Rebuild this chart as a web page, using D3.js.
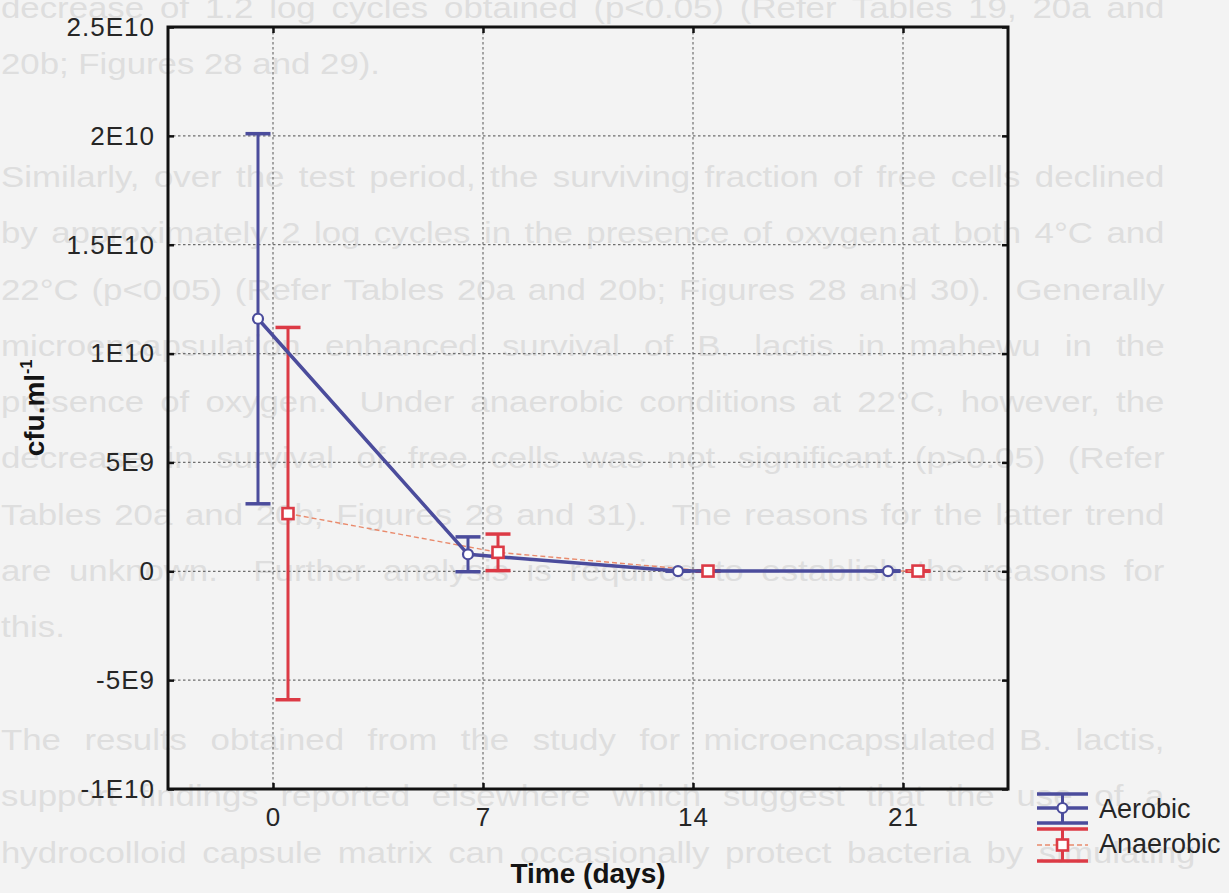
<!DOCTYPE html>
<html>
<head>
<meta charset="utf-8">
<script src="https://cdn.jsdelivr.net/npm/d3@7"></script>
<style>
  html, body { margin: 0; padding: 0; background: #f3f3f3; }
  svg { display: block; font-family: "Liberation Sans", Arial, Helvetica, sans-serif; }
</style>
</head>
<body>
<svg id="chart" width="1229" height="893"></svg>
<script>
// ---- data -------------------------------------------------------------
const days = [0, 7, 14, 21];
const aerobicMean = [1.16e10, 7.8e8, 1e7, 1e7];
const aerobicErr = [8.5e9, 8.0e8, 1e7, 1e7];
const anaerobicMean = [2.65e9, 8.7e8, 1e7, 1e7];
const anaerobicErr = [8.55e9, 8.4e8, 1e7, 1e7];
const seriesNames = ["Aerobic", "Anaerobic"];
const yTickValues = [-1e10, -5e9, 0, 5e9, 1e10, 1.5e10, 2e10, 2.5e10];
const yTickLabels = ["-1E10", "-5E9", "0", "5E9", "1E10", "1.5E10", "2E10", "2.5E10"];
const xTickLabels = ["0", "7", "14", "21"];

// page text printed on the sheet behind the figure
const pageLines = [
  "decrease of 1.2 log cycles obtained (p<0.05) (Refer Tables 19, 20a and",
  "20b; Figures 28 and 29).",
  "",
  "Similarly, over the test period, the surviving fraction of free cells declined",
  "by approximately 2 log cycles in the presence of oxygen at both 4°C and",
  "22°C (p<0.05) (Refer Tables 20a and 20b; Figures 28 and 30).  Generally",
  "microencapsulation enhanced survival of B. lactis in mahewu in the",
  "presence of oxygen.  Under anaerobic conditions at 22°C, however, the",
  "decrease in survival of free cells was not significant (p>0.05) (Refer",
  "Tables 20a and 20b; Figures 28 and 31).  The reasons for the latter trend",
  "are unknown.  Further analysis is required to establish the reasons for",
  "this.",
  "",
  "The results obtained from the study for microencapsulated B. lactis,",
  "support findings reported elsewhere which suggest that the use of a",
  "hydrocolloid capsule matrix can occasionally protect bacteria by simulating"
];

// ---- layout -----------------------------------------------------------
const plot = { left: 168, right: 1008, top: 27, bottom: 789 };
const BLUE = "#4b4c9c", RED = "#dc3a45", RED_LINE = "#e98a6c";
const dayShift = 0.5;   // the two series sit either side of each sampling day

const svg = d3.select("#chart");

// faint page text: wide typeface, justified by stretching then widening gaps
const page = svg.append("g").attr("fill", "#dedede").attr("font-size", 29);
const maxStretch = 1.2;
pageLines.forEach((line, i) => {
  if (!line) return;
  const last = i === pageLines.length - 1;
  const endOfPara = !last && !pageLines[i + 1];
  const t = page.append("text")
    .attr("x", 0).attr("y", 0)
    .style("white-space", "pre")
    .text(line);
  const natural = t.node().getComputedTextLength();
  const target = last ? 1195 : 1164;
  let s = maxStretch;
  if (!endOfPara) {
    s = Math.min(target / natural, maxStretch);
    const gaps = (line.match(/ /g) || []).length;
    if (gaps) t.attr("word-spacing", (target / s - natural) / gaps);
  }
  t.attr("transform", `translate(1,${18 + i * 56.3}) scale(${s},1)`);
});

const x = d3.scaleLinear().domain([-3.5, 24.5]).range([plot.left, plot.right]);
const y = d3.scaleLinear().domain([-1e10, 2.5e10]).range([plot.bottom, plot.top]);

// grid
const grid = svg.append("g")
  .attr("stroke", "#6f6f6f").attr("stroke-width", 1.2).attr("stroke-dasharray", "2.5,2.5");
grid.selectAll("line.gx").data(days).join("line")
  .attr("x1", d => x(d)).attr("x2", d => x(d))
  .attr("y1", plot.top).attr("y2", plot.bottom);
grid.selectAll("line.gy").data(yTickValues.slice(1, -1)).join("line")
  .attr("y1", d => y(d)).attr("y2", d => y(d))
  .attr("x1", plot.left).attr("x2", plot.right);

// axes (ticks point inward)
function styleAxis(g, fontSize) {
  g.select(".domain").remove();
  g.selectAll(".tick line").attr("stroke", "#111").attr("stroke-width", 2.5);
  g.selectAll("text")
    .attr("fill", "#262626")
    .attr("font-size", fontSize)
    .attr("letter-spacing", 1)
    .attr("font-family", "'Liberation Sans', Arial, sans-serif");
}
svg.append("g").attr("transform", `translate(${plot.left},0)`)
  .call(d3.axisLeft(y).tickValues(yTickValues)
    .tickFormat((d, i) => yTickLabels[i]).tickSizeInner(-6).tickSizeOuter(0).tickPadding(13))
  .call(g => styleAxis(g, 26));
svg.append("g").attr("transform", `translate(${plot.right},0)`)
  .call(d3.axisRight(y).tickValues(yTickValues).tickFormat("").tickSizeInner(-6).tickSizeOuter(0))
  .call(g => styleAxis(g, 26));
svg.append("g").attr("transform", `translate(0,${plot.bottom})`)
  .call(d3.axisBottom(x).tickValues(days)
    .tickFormat((d, i) => xTickLabels[i]).tickSizeInner(-6).tickSizeOuter(0).tickPadding(19))
  .call(g => styleAxis(g, 26));
svg.append("g").attr("transform", `translate(0,${plot.top})`)
  .call(d3.axisTop(x).tickValues(days).tickFormat("").tickSizeInner(-6).tickSizeOuter(0))
  .call(g => styleAxis(g, 26));

// frame
svg.append("rect")
  .attr("x", plot.left).attr("y", plot.top)
  .attr("width", plot.right - plot.left).attr("height", plot.bottom - plot.top)
  .attr("fill", "none").attr("stroke", "#111").attr("stroke-width", 3);

// series
const aerobic = days.map((d, i) => ({ day: d - dayShift, m: aerobicMean[i], e: aerobicErr[i] }));
const anaerobic = days.map((d, i) => ({ day: d + dayShift, m: anaerobicMean[i], e: anaerobicErr[i] }));
const capHalf = 12.5;

function errorBars(data, color) {
  const g = svg.append("g").attr("stroke", color).attr("fill", "none");
  g.selectAll("line.v").data(data).join("line")
    .attr("stroke-width", 3)
    .attr("x1", d => x(d.day)).attr("x2", d => x(d.day))
    .attr("y1", d => y(d.m + d.e)).attr("y2", d => y(d.m - d.e));
  [1, -1].forEach(s => {
    g.append("g").selectAll("line").data(data).join("line")
      .attr("stroke-width", 3.5)
      .attr("x1", d => x(d.day) - capHalf).attr("x2", d => x(d.day) + capHalf)
      .attr("y1", d => y(d.m + s * d.e))
      .attr("y2", d => y(d.m + s * d.e));
  });
}
const line = d3.line().x(d => x(d.day)).y(d => y(d.m));

errorBars(anaerobic, RED);
svg.append("path").datum(anaerobic).attr("d", line)
  .attr("fill", "none").attr("stroke", RED_LINE).attr("stroke-width", 1.4)
  .attr("stroke-dasharray", "5,3");
errorBars(aerobic, BLUE);
svg.append("path").datum(aerobic).attr("d", line)
  .attr("fill", "none").attr("stroke", BLUE).attr("stroke-width", 3.5);

svg.append("g").selectAll("circle").data(aerobic).join("circle")
  .attr("cx", d => x(d.day)).attr("cy", d => y(d.m)).attr("r", 5)
  .attr("fill", "#fff").attr("stroke", BLUE).attr("stroke-width", 2.2);
svg.append("g").selectAll("rect").data(anaerobic).join("rect")
  .attr("x", d => x(d.day) - 5.5).attr("y", d => y(d.m) - 5.5)
  .attr("width", 11).attr("height", 11)
  .attr("fill", "#fff").attr("stroke", RED).attr("stroke-width", 2.6);

// axis titles
svg.append("text")
  .attr("x", (plot.left + plot.right) / 2).attr("y", 883)
  .attr("text-anchor", "middle").attr("font-size", 28).attr("font-weight", "bold")
  .attr("fill", "#141414").text("Time (days)");
const yt = svg.append("text")
  .attr("transform", "translate(44,408) rotate(-90)")
  .attr("text-anchor", "middle").attr("font-size", 28).attr("font-weight", "bold")
  .attr("fill", "#141414");
yt.append("tspan").text("cfu.ml");
yt.append("tspan").attr("dy", -12).attr("font-size", 16).text("-1");

// legend
const legend = svg.append("g");
const legendRows = [
  { name: seriesNames[0], color: BLUE, top: 794, mid: 808, bottom: 823, base: 818 },
  { name: seriesNames[1], color: RED, top: 829, mid: 845, bottom: 861, base: 853 }
];
const lx0 = 1037, lx1 = 1088, lxc = (lx0 + lx1) / 2;
legendRows.forEach((r, i) => {
  const g = legend.append("g");
  g.append("line").attr("x1", lx0).attr("x2", lx1).attr("y1", r.top).attr("y2", r.top)
    .attr("stroke", r.color).attr("stroke-width", 3.5);
  g.append("line").attr("x1", lx0).attr("x2", lx1).attr("y1", r.bottom).attr("y2", r.bottom)
    .attr("stroke", r.color).attr("stroke-width", 3.5);
  g.append("line").attr("x1", lxc).attr("x2", lxc).attr("y1", r.top).attr("y2", r.bottom)
    .attr("stroke", r.color).attr("stroke-width", 3);
  if (i === 0) {
    g.append("line").attr("x1", lx0).attr("x2", lx1).attr("y1", r.mid).attr("y2", r.mid)
      .attr("stroke", BLUE).attr("stroke-width", 3.5);
    g.append("circle").attr("cx", lxc).attr("cy", r.mid).attr("r", 5)
      .attr("fill", "#fff").attr("stroke", BLUE).attr("stroke-width", 2.2);
  } else {
    g.append("line").attr("x1", lx0).attr("x2", lx1).attr("y1", r.mid).attr("y2", r.mid)
      .attr("stroke", RED_LINE).attr("stroke-width", 1.4).attr("stroke-dasharray", "5,3");
    g.append("rect").attr("x", lxc - 5.5).attr("y", r.mid - 5.5).attr("width", 11).attr("height", 11)
      .attr("fill", "#fff").attr("stroke", RED).attr("stroke-width", 2.6);
  }
  g.append("text").attr("x", 1099).attr("y", r.base)
    .attr("font-size", 27).attr("fill", "#262626").text(r.name);
});
</script>
</body>
</html>
